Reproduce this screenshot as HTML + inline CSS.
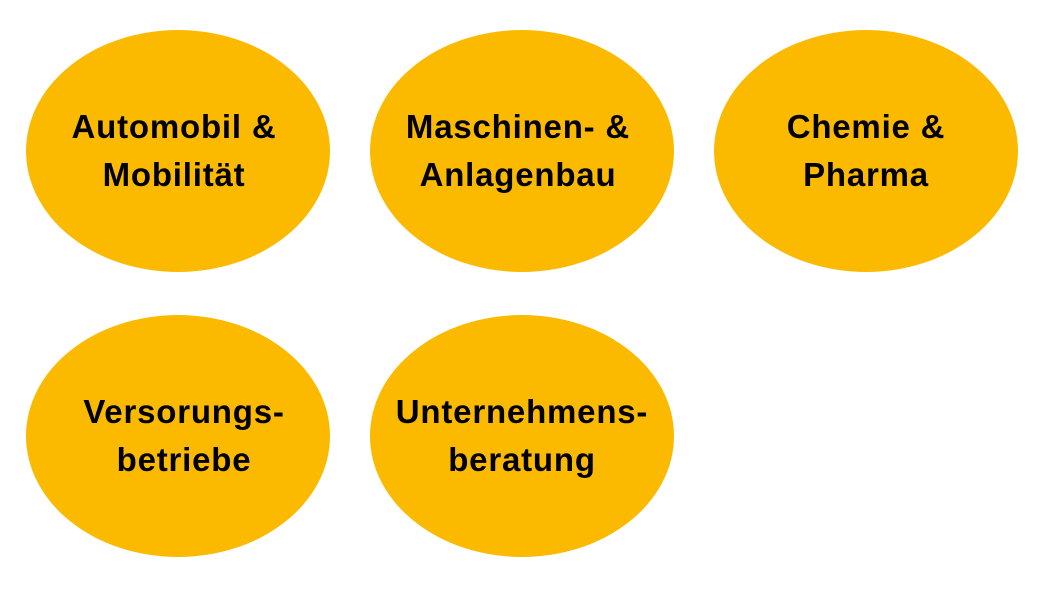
<!DOCTYPE html>
<html><head><meta charset="utf-8"><style>
body{margin:0;width:1060px;height:597px;background:#fff;overflow:hidden;position:relative;font-family:"Liberation Sans",sans-serif}
.e{position:absolute;width:304px;height:242px;border-radius:50%;background:#FBBA00}
.t{position:absolute;width:304px;text-align:center;font-weight:bold;font-size:33px;letter-spacing:0.8px;line-height:48px;color:#000}
</style></head><body>
<div class="e" style="left:26px;top:30px"></div>
<div class="e" style="left:370px;top:30px"></div>
<div class="e" style="left:714px;top:30px"></div>
<div class="e" style="left:26px;top:315px"></div>
<div class="e" style="left:370px;top:315px"></div>
<div class="t" style="left:22px;top:103px">Automobil &amp;<br>Mobilität</div>
<div class="t" style="left:366px;top:103px">Maschinen- &amp;<br>Anlagenbau</div>
<div class="t" style="left:714px;top:103px">Chemie &amp;<br>Pharma</div>
<div class="t" style="left:32px;top:388px">Versorungs-<br>betriebe</div>
<div class="t" style="left:370px;top:388px">Unternehmens-<br>beratung</div>
</body></html>
